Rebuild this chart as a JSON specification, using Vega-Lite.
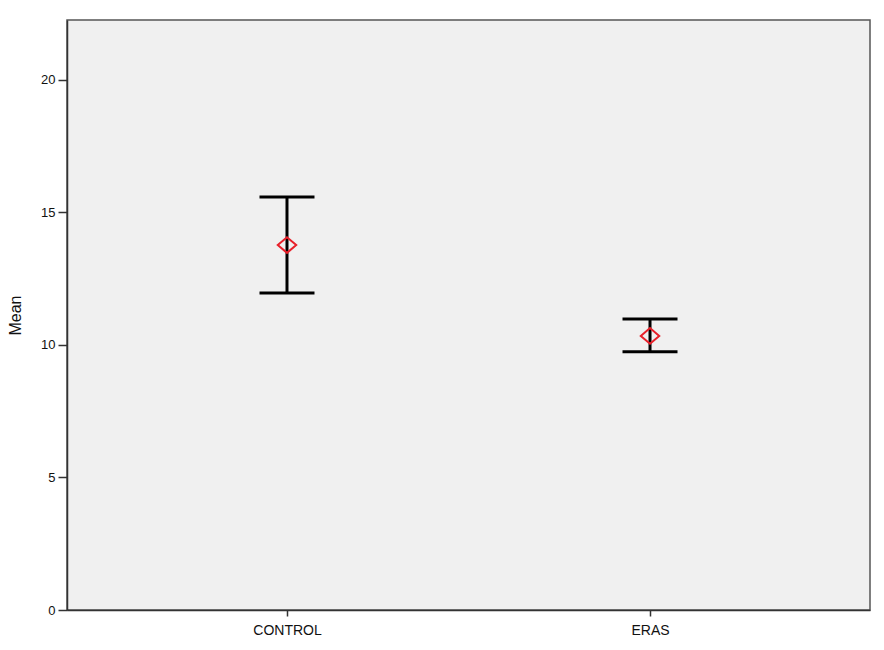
{
  "$schema": "https://vega.github.io/schema/vega-lite/v6.json",
  "width": 803,
  "height": 590,
  "autosize": "none",
  "padding": {"left": 67, "top": 20, "right": 14, "bottom": 40},
  "background": "white",
  "config": {
    "font": "Liberation Sans",
    "view": {"fill": "#f0f0f0", "stroke": "#555555", "strokeWidth": 1.5},
    "axis": {"domainColor": "#333333", "domainWidth": 1.5, "tickColor": "#333333", "tickWidth": 1.5, "tickSize": 9, "labelColor": "#111111", "labelFontSize": 13, "grid": false, "titleColor": "#111111", "titleFontWeight": "normal"}
  },
  "data": {"values": [
    {"group": "CONTROL", "mean": 13.77, "lower": 11.96, "upper": 15.58},
    {"group": "ERAS", "mean": 10.34, "lower": 9.74, "upper": 10.98}
  ]},
  "encoding": {
    "x": {"field": "group", "type": "nominal", "scale": {"type": "point", "padding": 0.606}, "sort": null,
      "axis": {"title": null, "labelAngle": 0, "labelPadding": 7, "tickSize": 6, "labelFontSize": 14}}
  },
  "layer": [
    {"mark": {"type": "rule", "color": "black", "strokeWidth": 3},
     "encoding": {"y": {"field": "lower", "type": "quantitative", "scale": {"domain": [0, 22.26], "nice": false}, "axis": {"title": "Mean", "values": [0, 5, 10, 15, 20], "titleFontSize": 16, "titlePadding": 17, "labelPadding": 3}}, "y2": {"field": "upper"}}},
    {"mark": {"type": "tick", "color": "black", "opacity": 1, "thickness": 3, "size": 55, "orient": "horizontal"},
     "encoding": {"y": {"field": "lower", "type": "quantitative"}}},
    {"mark": {"type": "tick", "color": "black", "opacity": 1, "thickness": 3, "size": 55, "orient": "horizontal"},
     "encoding": {"y": {"field": "upper", "type": "quantitative"}}},
    {"mark": {"type": "point", "shape": "M -1 0 L 0 -0.85 L 1 0 L 0 0.85 Z", "filled": false, "stroke": "#e8202a", "strokeWidth": 2, "size": 340, "opacity": 1},
     "encoding": {"y": {"field": "mean", "type": "quantitative"}}}
  ]
}
